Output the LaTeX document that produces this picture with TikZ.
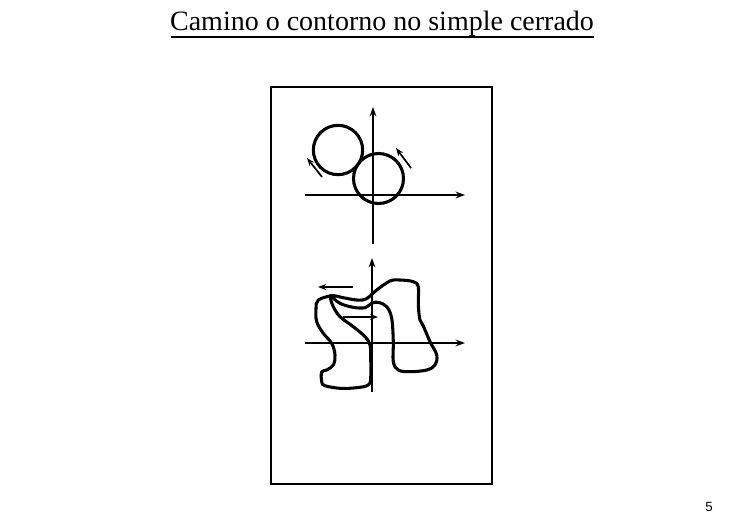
\documentclass[tikz,border=0pt]{standalone}
\usepackage{fontspec}
\setmainfont{Liberation Serif}
\newfontfamily\pnfont{Liberation Sans}
\usetikzlibrary{arrows.meta}
\begin{document}
\begin{tikzpicture}[x=0.75pt,y=-0.75pt,
  axis/.style={line width=1.5pt,-{Stealth[length=7pt,width=5pt]}},
  curve/.style={line width=2.3pt},
  dirarrow/.style={line width=1.3pt,-{Stealth[length=6pt,width=4.5pt]}},
  frame/.style={line width=1.5pt}]
\useasboundingbox (0,0) rectangle (735,525);
\node[font=\fontsize{21}{25}\selectfont, anchor=base, inner xsep=0pt] (title) at (382,30.5) {Camino o contorno no simple cerrado};
\coordinate (ul0) at (171,37); \coordinate (ul1) at (594,37);
\draw[line width=1.3pt] (ul0) -- (ul1);
\node[font=\pnfont\fontsize{10}{12}\selectfont] (pn) at (709,507) {5};
\draw[frame] (271,87) rectangle (492,484);
% top diagram
\coordinate (hx0) at (305,195); \coordinate (hx1) at (465,195);
\coordinate (vy0) at (373,244); \coordinate (vy1) at (373,107);
\draw[axis] (hx0) -- (hx1);
\draw[axis] (vy0) -- (vy1);
\node[curve,draw,circle,minimum size=37pt,inner sep=0pt] (c1) at (338,150) {};
\node[curve,draw,circle,minimum size=37.5pt,inner sep=0pt] (c2) at (378.5,178.5) {};
\coordinate (a1s) at (322,177); \coordinate (a1e) at (307,158);
\coordinate (a2s) at (411,168); \coordinate (a2e) at (396,148);
\draw[dirarrow] (a1s) -- (a1e);
\draw[dirarrow] (a2s) -- (a2e);
% bottom diagram
\coordinate (bh0) at (305,343); \coordinate (bh1) at (465,343);
\coordinate (bv0) at (372,392); \coordinate (bv1) at (372,258);
\draw[axis] (bh0) -- (bh1);
\draw[axis] (bv0) -- (bv1);
\draw[curve] plot[smooth cycle, tension=0.6] coordinates {
 (331.7,295.7) (318.3,300) (316,308.3) (316.7,321.7) (323.3,333.3) (331.7,343.3)
 (335,355) (333.3,365) (326.7,370) (321.7,372) (321.7,381.7) (325,385.7)
 (340,388.3) (356.7,387.7) (368.3,385) (370.7,378) (370.7,358.3) (370,345)
 (365,336.7) (353.3,326.7) (340,316.7) (333.3,306.7) (330.7,299)};
\draw[curve] plot[smooth cycle, tension=0.6] coordinates {
 (331.7,295.7) (343.3,297.7) (356.7,300) (366,299) (376.7,290) (390,281)
 (400,280) (413.3,281.7) (418.3,287) (418.3,305) (420,320) (423.3,326)
 (430,341.7) (436.7,355) (435,365) (426.7,370) (410,371.7) (398.3,370)
 (393.3,361.7) (393.3,341.7) (391.7,318.3) (386.7,306.7) (378.3,302.3)
 (371.7,303.3) (365,307.7) (353.3,307.3) (340,303.3)};
\coordinate (b1s) at (353,287); \coordinate (b1e) at (318,287);
\coordinate (b2s) at (343,317); \coordinate (b2e) at (378,317);
\draw[dirarrow] (b1s) -- (b1e);
\draw[dirarrow] (b2s) -- (b2e);
\end{tikzpicture}
\end{document}
